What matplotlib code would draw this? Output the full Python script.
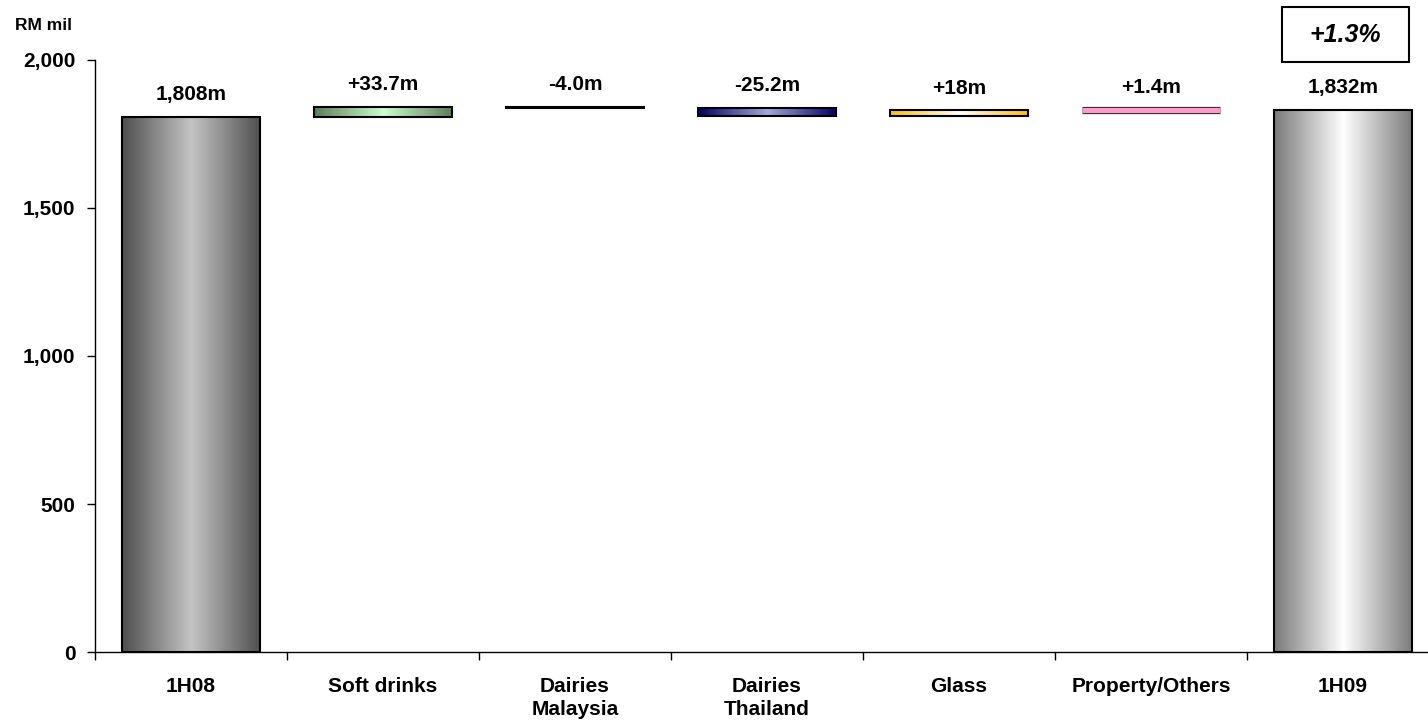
import numpy as np
import matplotlib
matplotlib.use("Agg")
import matplotlib.pyplot as plt
import matplotlib.patheffects as pe
from matplotlib.colors import LinearSegmentedColormap
from matplotlib.patches import Rectangle

plt.rcParams['font.family'] = ['Liberation Sans', 'DejaVu Sans']
plt.rcParams['font.weight'] = 'bold'

# Revenue bridge, RM mil
categories = ['1H08', 'Soft drinks', 'Dairies\nMalaysia', 'Dairies\nThailand',
              'Glass', 'Property/Others', '1H09']
start_total = 1808
steps = [33.7, -4.0, -25.2, 18, 1.4]
step_labels = ['+33.7m', '-4.0m', '-25.2m', '+18m', '+1.4m']
end_total = 1832
yticks = [0, 500, 1000, 1500, 2000]

# (edge colour, centre colour) for each bar's horizontal gradient
fills = [('#4f4f4f', '#c4c4c4'),
         ('#5e7c5e', '#ccffcc'),
         ('#000000', '#000000'),
         ('#000066', '#a6a6d9'),
         ('#ffbf00', '#ffffff'),
         ('#ff99cc', '#ff99cc'),
         ('#7a7a7a', '#ffffff')]

W, H = 1428, 727
fig = plt.figure(figsize=(W / 100, H / 100), dpi=100)
ax = fig.add_axes([95 / W, 75 / H, 1344 / W, 592 / H])

bar_w = 0.72
px_per_unit = 592 / 2000


def grad_bar(x, bottom, height, c_edge, c_mid):
    lo, hi = sorted([bottom, bottom + height])
    if abs(height) * px_per_unit < 3 and c_mid != '#000000':
        # too thin to show a fill: draw it as a coloured band with dark rims
        ln, = ax.plot([x - bar_w / 2, x + bar_w / 2], [(lo + hi) / 2] * 2,
                      color=c_mid, lw=3.6, solid_capstyle='butt', zorder=3)
        ln.set_path_effects([pe.Stroke(linewidth=5.2, foreground='#333333',
                                       capstyle='butt'), pe.Normal()])
        return hi
    patch = ax.bar(x, height, bar_w, bottom=bottom, facecolor='none',
                   edgecolor='black', linewidth=1.5, zorder=3)[0]
    cmap = LinearSegmentedColormap.from_list(
        'g', [(0, c_edge), (0.5, c_mid), (1, c_edge)])
    grad = np.linspace(0, 1, 256).reshape(1, -1)
    im = ax.imshow(grad, cmap=cmap, aspect='auto', interpolation='bicubic',
                   extent=[x - bar_w / 2, x + bar_w / 2, lo, hi], zorder=2)
    im.set_clip_path(patch)
    return hi


label_off = 12  # points above bar top

# opening total
top = grad_bar(0, 0, start_total, *fills[0])
ax.annotate(f'{start_total:,}m', (0, top), xytext=(0, label_off),
            textcoords='offset points', ha='center', va='baseline', fontsize=15)

# movements
level = start_total
for i, (dv, lab) in enumerate(zip(steps, step_labels), start=1):
    top = grad_bar(i, level, dv, *fills[i])
    ax.annotate(lab, (i, top), xytext=(0, label_off),
                textcoords='offset points', ha='center', va='baseline',
                fontsize=15)
    level += dv

# closing total
top = grad_bar(6, 0, end_total, *fills[6])
ax.annotate(f'{end_total:,}m', (6, top), xytext=(0, label_off),
            textcoords='offset points', ha='center', va='baseline', fontsize=15)

ax.set_xlim(-0.5, 6.5)
ax.set_ylim(0, 2000)

for s in ['top', 'right']:
    ax.spines[s].set_visible(False)
for s in ['left', 'bottom']:
    ax.spines[s].set_linewidth(1.0)

ax.set_yticks(yticks)
ax.set_yticklabels([f'{v:,}' for v in yticks], fontsize=15)
ax.tick_params(axis='y', length=6, width=1, pad=8)

ax.set_xticks(range(len(categories)))
ax.set_xticklabels(categories, fontsize=15, linespacing=1.25)
ax.set_xticks(np.arange(-0.5, 7, 1), minor=True)
ax.tick_params(axis='x', which='major', length=0, pad=18)
ax.tick_params(axis='x', which='minor', length=6, width=1)

fig.text(15 / W, 1 - 18 / H, 'RM mil', fontsize=12.5, ha='left', va='top')

# growth box
pct = (end_total / start_total - 1) * 100
fig.add_artist(Rectangle((1282 / W, 1 - 62 / H), 127 / W, 55 / H,
                         transform=fig.transFigure, facecolor='white',
                         edgecolor='black', linewidth=1.5))
fig.text(1345 / W, 1 - 35 / H, f'+{pct:.1f}%', fontsize=18, style='italic',
         ha='center', va='center')

fig.savefig('out.png', dpi=100)
